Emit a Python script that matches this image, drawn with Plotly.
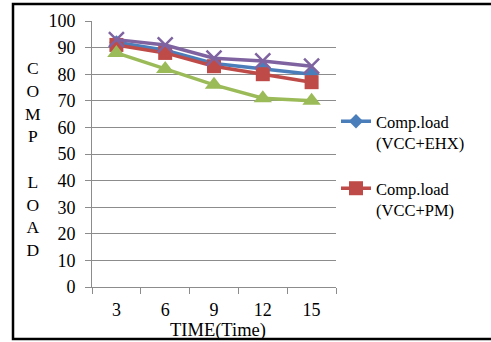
import plotly.graph_objects as go

categories = ["3", "6", "9", "12", "15"]
vcc_ehx = [92, 89, 84, 82, 80]
vcc_pm = [91, 88, 83, 80, 77]
series3 = [88, 82, 76, 71, 70]
series4 = [93, 91, 86, 85, 83]
y_ticks = [0, 10, 20, 30, 40, 50, 60, 70, 80, 90, 100]

FONT = "Liberation Serif"
BLUE = "#4A7EBB"
RED = "#BE4B48"
GREEN = "#9BBB59"
PURPLE = "#7F63A1"

fig = go.Figure()
fig.add_trace(go.Scatter(
    x=categories, y=vcc_ehx, name="Comp.load<br>(VCC+EHX)", mode="lines+markers",
    line=dict(color=BLUE, width=3.5), marker=dict(symbol="diamond", size=11, color=BLUE),
    legend="legend"))
fig.add_trace(go.Scatter(
    x=categories, y=vcc_pm, name="Comp.load<br>(VCC+PM)", mode="lines+markers",
    line=dict(color=RED, width=3.5), marker=dict(symbol="square", size=14, color=RED),
    legend="legend2"))
fig.add_trace(go.Scatter(
    x=categories, y=series3, name="Series 3", mode="lines+markers", showlegend=False,
    line=dict(color=GREEN, width=3.5), marker=dict(symbol="triangle-up", size=16, color=GREEN)))
fig.add_trace(go.Scatter(
    x=categories, y=series4, name="Series 4", mode="lines+markers", showlegend=False,
    line=dict(color=PURPLE, width=3.5),
    marker=dict(symbol="x-thin", size=15, color=PURPLE, line=dict(color=PURPLE, width=2.5))))

# plot area: x 92..336, y 21..287
L, R, T, B = 92, 336, 21, 287
W, H = 491, 342
pw, ph = R - L, B - T

fig.update_layout(
    width=W, height=H,
    margin=dict(l=L, r=W - R, t=T, b=H - B, pad=0, autoexpand=False),
    paper_bgcolor="white", plot_bgcolor="white",
    font=dict(family=FONT, size=16, color="black"),
    xaxis=dict(
        type="category", range=[-0.5, 4.5], tickson="boundaries",
        ticks="outside", ticklen=6, tickcolor="#8c8c8c",
        showline=True, linecolor="#8c8c8c", linewidth=1,
        showgrid=False, ticklabelstandoff=6, automargin=False,
        tickfont=dict(family=FONT, size=18),
    ),
    yaxis=dict(
        range=[0, 100], tickvals=y_ticks, ticks="outside", ticklen=6, tickcolor="#8c8c8c",
        showline=True, linecolor="#8c8c8c", linewidth=1,
        showgrid=True, gridcolor="#8c8c8c", gridwidth=1, zeroline=False,
        ticklabelstandoff=6, automargin=False,
        tickfont=dict(family=FONT, size=18),
    ),
    legend=dict(x=1.0, y=(B - 104) / ph, xanchor="left", yanchor="top",
                bgcolor="rgba(0,0,0,0)", valign="top", itemwidth=30,
                font=dict(family=FONT, size=16.5)),
    legend2=dict(x=1.0, y=(B - 171) / ph, xanchor="left", yanchor="top",
                 bgcolor="rgba(0,0,0,0)", valign="top", itemwidth=30,
                 font=dict(family=FONT, size=16.5)),
    showlegend=True,
)

# x-axis title
fig.add_annotation(
    text="TIME(Time)", xref="paper", yref="paper",
    x=(218 - L) / pw, y=(B - 331) / ph, xanchor="center", yanchor="middle",
    showarrow=False, font=dict(family=FONT, size=18.5))

# y-axis title (stacked letters)
fig.add_annotation(
    text="C<br>O<br>M<br>P<br><br>L<br>O<br>A<br>D",
    xref="paper", yref="paper", x=(33 - L) / pw, y=(B - 159) / ph,
    xanchor="center", yanchor="middle", showarrow=False, align="center",
    font=dict(family=FONT, size=17.5))

fig.add_shape(
    type="rect", xref="paper", yref="paper",
    x0=(13 - L) / pw, x1=(500 - L) / pw, y0=(B - 339) / ph, y1=(B - 4) / ph,
    line=dict(color="black", width=2.5), fillcolor="rgba(0,0,0,0)", layer="below")

fig.write_html("out.html")
